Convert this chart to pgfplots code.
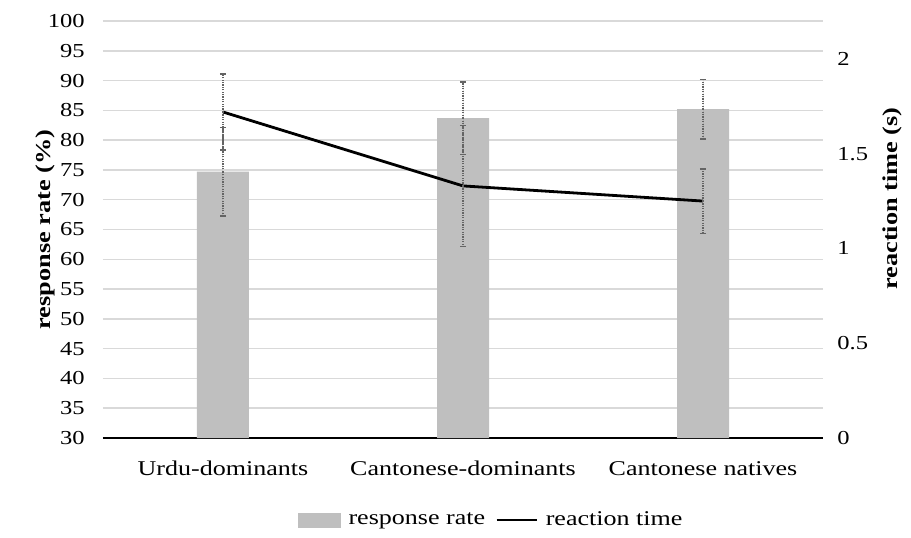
\documentclass[border=0pt]{standalone}
\usepackage{fontspec}
\setmainfont{Liberation Serif}[FakeStretch=1.24]
\usepackage{pgfplots}
\pgfplotsset{compat=1.18}
\definecolor{barg}{RGB}{191,191,191}
\definecolor{gridg}{RGB}{217,217,217}
\definecolor{errg}{RGB}{100,100,100}
\begin{document}
\begin{tikzpicture}
\pgfplotsset{
  common/.style={
    scale only axis, width=360pt, height=208.5pt,
    xmin=-0.5, xmax=2.5,
    /pgf/number format/assume math mode=true,
    tick style={draw=none},
    major tick length=0pt,
  },
  eb/.style={
    error bars/.cd, y dir=both, y explicit,
    error bar style={errg, dash pattern=on 0.6pt off 0.6pt, line width=0.75pt},
    error mark options={errg, solid, line width=0.75pt, mark size=1.6pt, rotate=90},
  },
}
\begin{axis}[common, name=ax,
  ymin=30, ymax=100, ytick={30,35,...,100},
  ymajorgrids, grid style={gridg, line width=0.75pt},
  axis x line*=bottom, axis y line*=left,
  x axis line style={black, line width=1.1pt, -},
  y axis line style={draw=none},
  xtick={0,1,2},
  xticklabels={Urdu-dominants, Cantonese-dominants, Cantonese natives},
  xticklabel style={inner sep=0pt, yshift=-11.5pt, font=\fontsize{10.5}{12}\selectfont},
  yticklabel style={inner sep=0pt, xshift=-9pt, font=\fontsize{9.9}{12}\selectfont},
  ylabel={\textbf{response rate (\%)}},
  ylabel style={at={(axis description cs:-0.08,0.5)}, anchor=center, font=\fontsize{10.6}{12}\selectfont},
  legend style={at={(axis description cs:0.5375,-0.197)}, anchor=center, draw=none, fill=none,
    legend columns=2, font=\fontsize{10.5}{12}\selectfont,
    nodes={inner sep=0pt},
    /tikz/every odd column/.append style={column sep=4pt},
    /tikz/every even column/.append style={column sep=5pt}},
]
\addplot[ybar, bar width=26pt, bar shift=0pt, fill=barg, draw=none,
  legend image code/.code={\fill[barg] (0pt,-3.75pt) rectangle (21.5pt,3.75pt);},
  eb]
  coordinates {(0,74.7) +- (0,7.4) (1,83.7) +- (0,6.1) (2,85.2) +- (0,5.0)};
\addlegendentry{response rate}
\addlegendimage{black, line width=1.4pt, legend image code/.code={\draw[black, line width=1.3pt] (0pt,0pt) -- (20pt,0pt);}}
\addlegendentry{reaction time}
\end{axis}
\begin{axis}[common,
  ymin=0, ymax=2.2, ytick={0,0.5,1,1.5,2},
  axis y line*=right, axis x line=none,
  y axis line style={draw=none},
  yticklabel style={inner sep=0pt, xshift=7pt, anchor=west, font=\fontsize{9.9}{12}\selectfont},
  ylabel={\textbf{reaction time (s)}},
  ylabel style={at={(axis description cs:1.097,0.574)}, anchor=center, font=\fontsize{10.6}{12}\selectfont},
]
\addplot[black, line width=1.4pt, mark=none, eb]
  coordinates {(0,1.72) +- (0,0.20) (1,1.33) +- (0,0.32) (2,1.25) +- (0,0.17)};
\end{axis}
\pgfresetboundingbox
\path ([shift={(-51.5pt,-49.5pt)}]ax.south west) rectangle ([shift={(404pt,219pt)}]ax.south west);
\end{tikzpicture}
\end{document}
